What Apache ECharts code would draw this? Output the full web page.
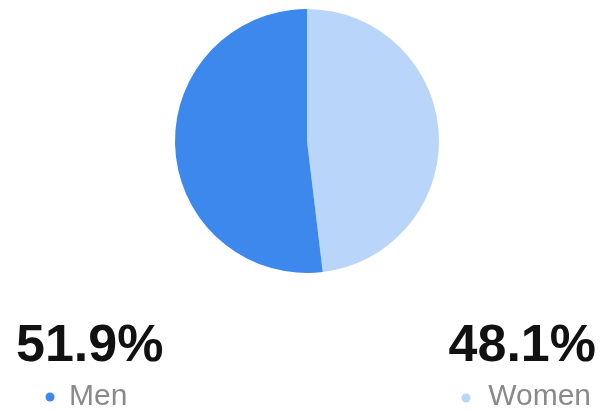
<!DOCTYPE html>
<html><head><meta charset="utf-8">
<script src="https://cdn.jsdelivr.net/npm/echarts@6/dist/echarts.min.js"></script>
<style>html,body{margin:0;padding:0;background:#fff}#c{width:601px;height:411px}</style>
</head><body><div id="c"></div>
<script>
var categories = ['Women', 'Men'];
var values = [48.1, 51.9];
var colors = ['#b9d5fa', '#3c88ed'];

var chart = echarts.init(document.getElementById('c'));
var pctFont = 'bold 52px "Liberation Sans", Arial, sans-serif';
var lblFont = '30px "Liberation Sans", Arial, sans-serif';
chart.setOption({
  backgroundColor: '#ffffff',
  animation: false,
  series: [{
    type: 'pie',
    center: [307, 141],
    radius: 132,
    startAngle: 90,
    clockwise: true,
    label: {show: false},
    labelLine: {show: false},
    emphasis: {disabled: true},
    itemStyle: {borderWidth: 0},
    data: categories.map(function (c, i) { return {name: c, value: values[i], itemStyle: {color: colors[i]}}; })
  }],
  graphic: [
    {type: 'text', left: 16, top: 321, style: {text: values[1].toFixed(1) + '%', font: pctFont, fill: '#111'}},
    {type: 'text', right: 5, top: 321, style: {text: values[0].toFixed(1) + '%', font: pctFont, fill: '#111'}},
    {type: 'circle', shape: {cx: 50, cy: 397, r: 4.5}, style: {fill: colors[1]}},
    {type: 'text', left: 69, top: 382, style: {text: categories[1], font: lblFont, fill: '#8a8a8a'}},
    {type: 'circle', shape: {cx: 466, cy: 398, r: 4.5}, style: {fill: colors[0]}},
    {type: 'text', right: 10, top: 382, style: {text: categories[0], font: lblFont, fill: '#8a8a8a'}}
  ]
});
</script></body></html>
